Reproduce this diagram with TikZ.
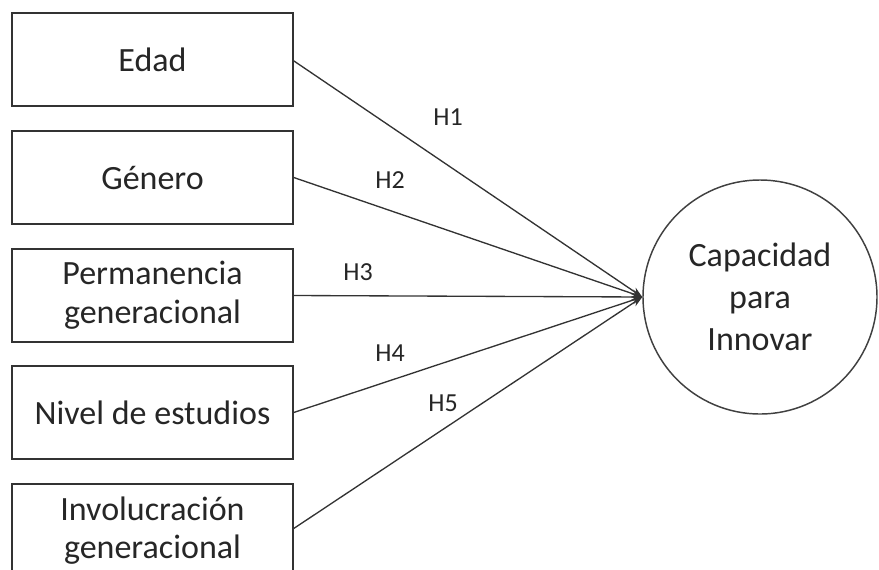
\documentclass[tikz,border=0pt]{standalone}
\usepackage{fontspec}
\setmainfont{Carlito}
\usetikzlibrary{arrows.meta}
\begin{document}
\begin{tikzpicture}[x=0.75pt,y=-0.75pt,
  varbox/.style={draw=black!80,line width=1.1pt,minimum width=210.75pt,minimum height=69.75pt,
     align=center,inner sep=0pt,font=\fontsize{25.5}{29}\selectfont,text=black!85},
  target/.style={draw=black!75,line width=1.1pt,circle,minimum size=175.5pt,align=center,
     inner sep=0pt,font=\fontsize{25.5}{31.5}\selectfont,text=black!85},
  link/.style={draw=black!80,line width=1pt,-{Stealth[length=8pt,width=6pt]}},
  hlab/.style={font=\fontsize{19.5}{22}\selectfont,text=black!85,inner sep=0pt}]
\useasboundingbox (0,0) rectangle (879,569);
\node[varbox] (edad) at (152.5,59.5) {Edad};
\node[varbox] (genero) at (152.5,177.5) {Género};
\node[varbox] (perm) at (152.5,295.5) {Permanencia\\generacional};
\node[varbox] (nivel) at (152.5,412.5) {Nivel de estudios};
\node[varbox] (invol) at (152.5,530.5) {Involucración\\generacional};
\node[target] (cap) at (760,297) {Capacidad\\para\\Innovar};
\coordinate (e1) at ([yshift=-1pt]edad.east);
\draw[link] (e1) -- (cap.west);
\draw[link] (genero.east) -- (cap.west);
\draw[link] (perm.east) -- (cap.west);
\draw[link] (nivel.east) -- (cap.west);
\draw[link] ([yshift=1.5pt]invol.east) -- (cap.west);
\node[hlab] (h1) at (448,117) {H1};
\node[hlab] (h2) at (390,180) {H2};
\node[hlab] (h3) at (358,272) {H3};
\node[hlab] (h4) at (390,353) {H4};
\node[hlab] (h5) at (443,403) {H5};
\end{tikzpicture}
\end{document}
